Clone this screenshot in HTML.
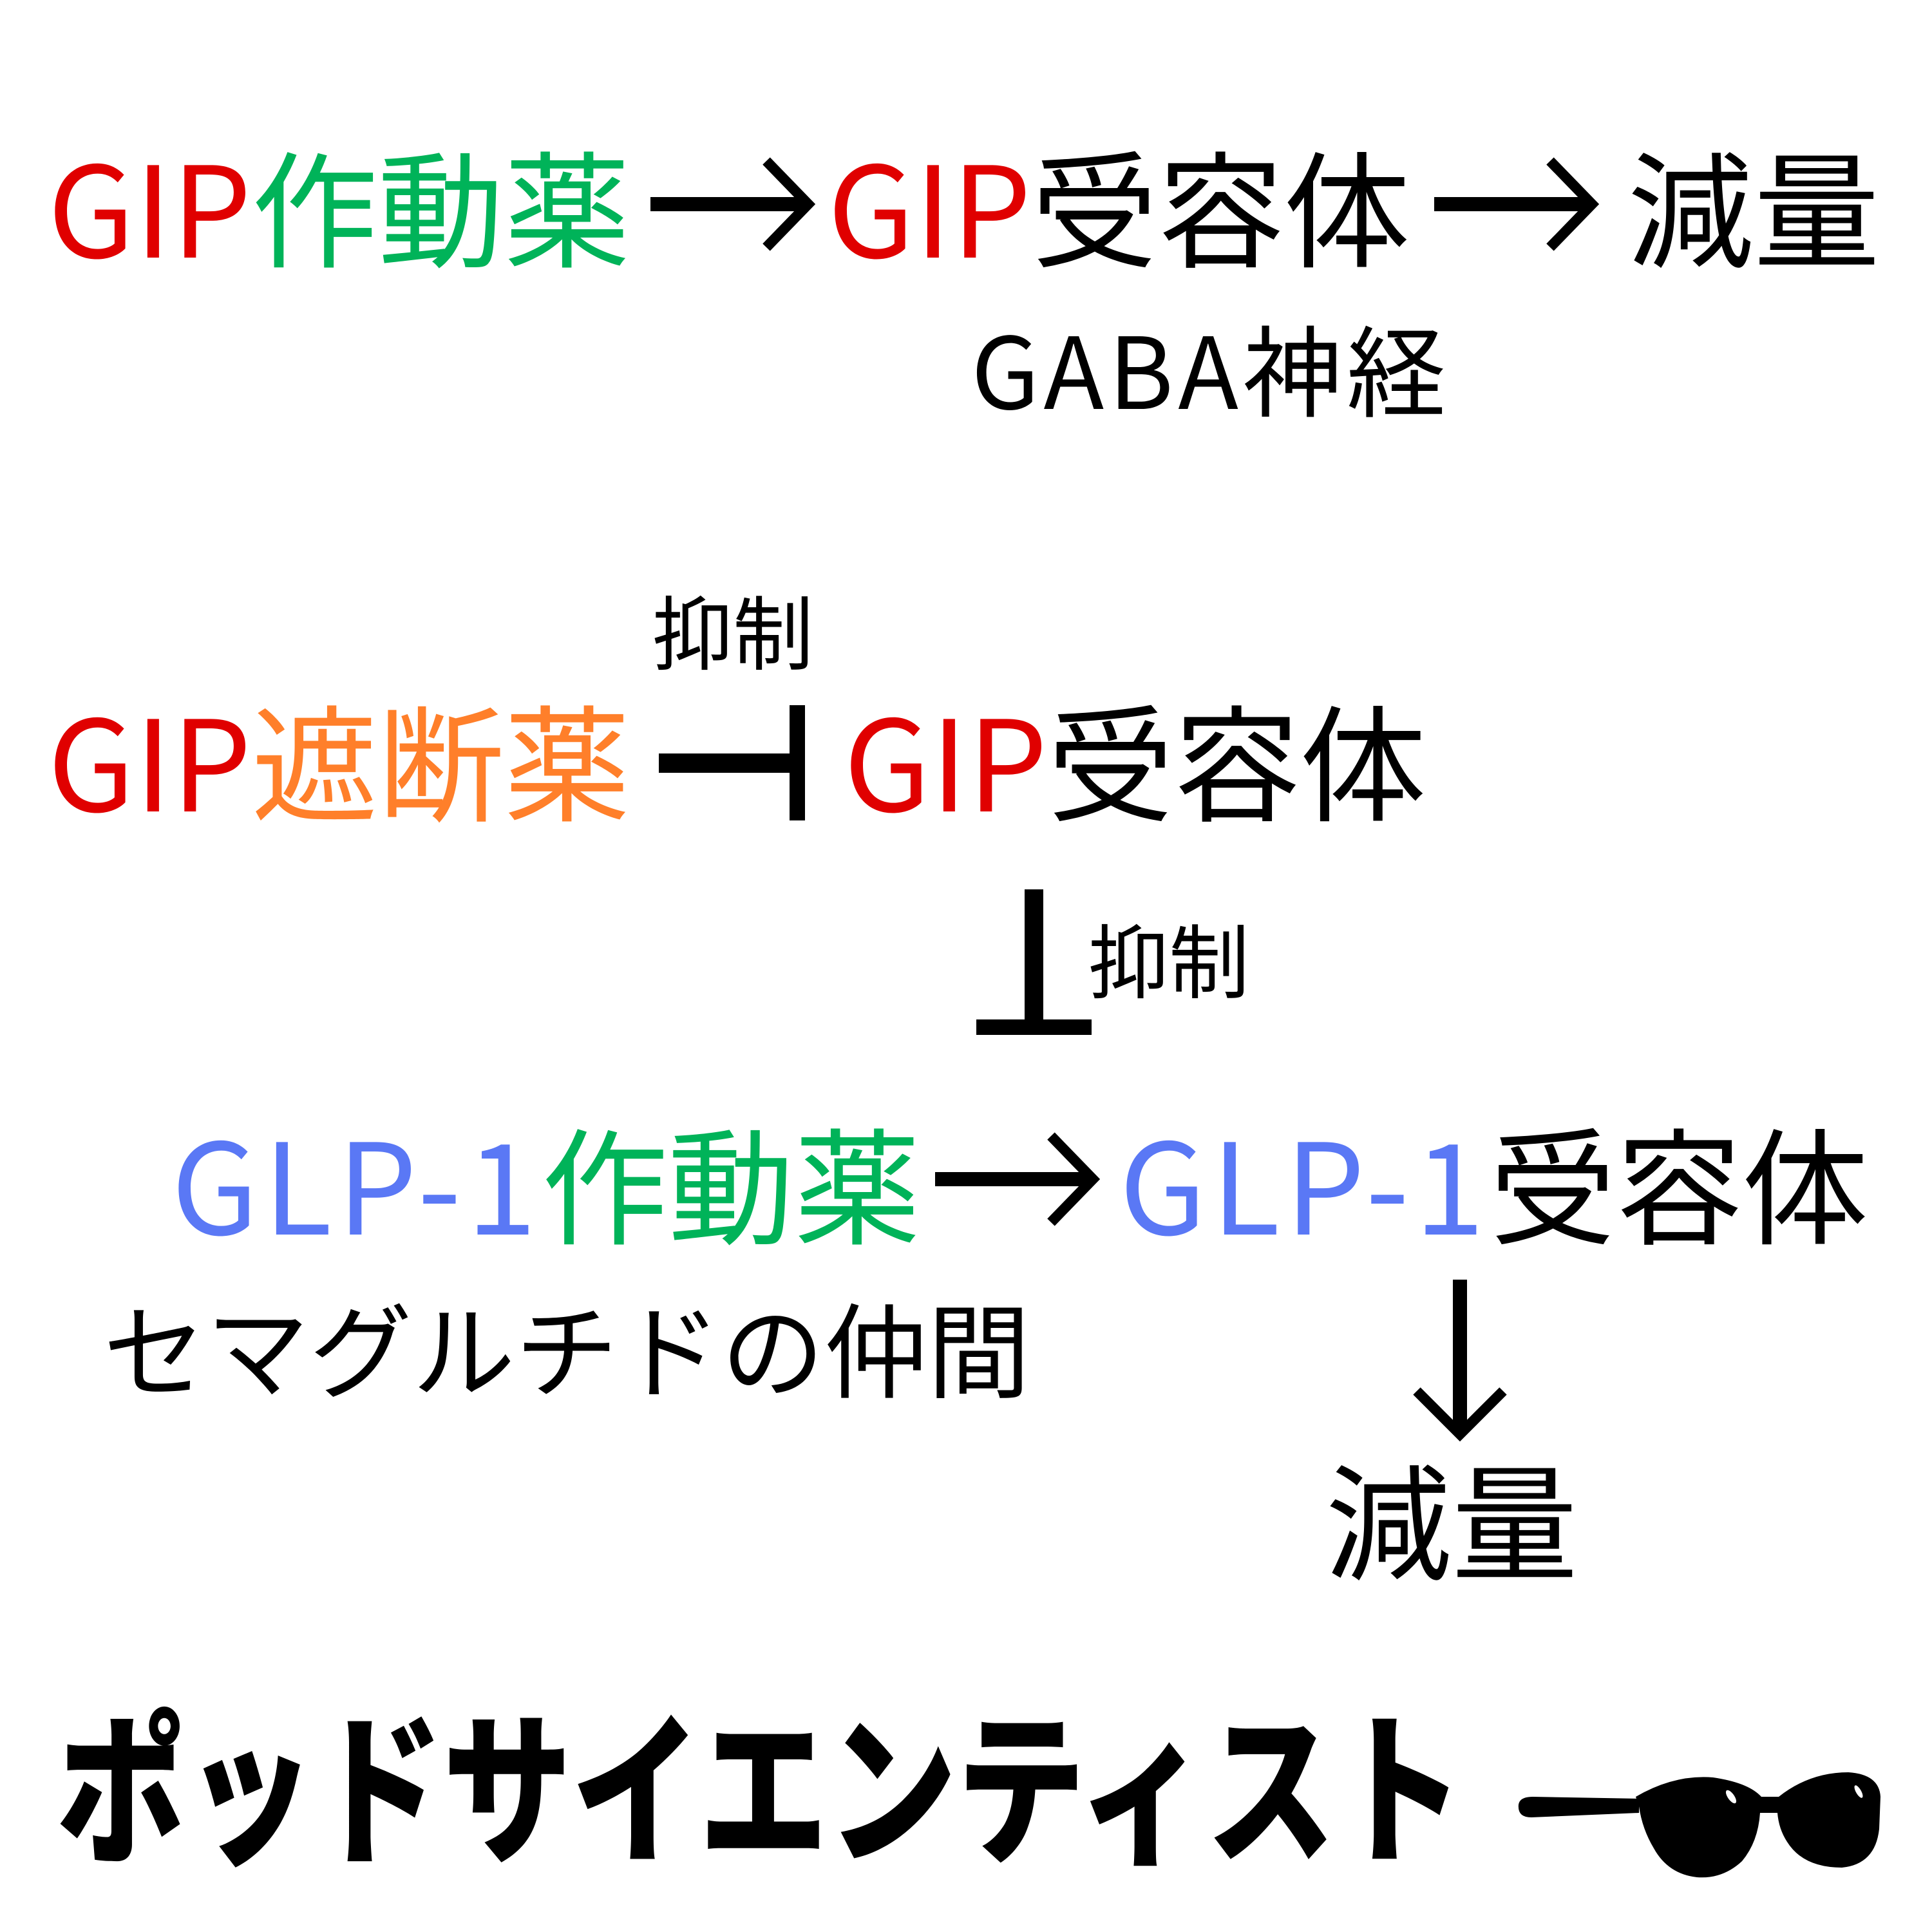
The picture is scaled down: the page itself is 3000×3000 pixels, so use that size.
<!DOCTYPE html>
<html><head><meta charset="utf-8"><style>
html,body{margin:0;padding:0;background:#fff;width:3000px;height:3000px;overflow:hidden}
svg{display:block}
text{font-family:"Noto Sans CJK JP","Liberation Sans",sans-serif}
</style></head><body>
<svg width="3000" height="3000" viewBox="0 0 3000 3000" xmlns="http://www.w3.org/2000/svg">
<!-- line 1 -->
<text x="74" y="400" font-size="196"><tspan fill="#e00000">GIP</tspan><tspan fill="#00b359">作動薬</tspan></text>
<text x="1285" y="400" font-size="196"><tspan fill="#e00000">GIP</tspan><tspan fill="#000">受容体</tspan></text>
<text x="2527" y="400" font-size="196" fill="#000">減量</text>
<text x="1508" y="635" font-size="154" fill="#000" letter-spacing="7">GABA神経</text>
<!-- line 2 -->
<text x="1013" y="1030" font-size="125" fill="#000">抑制</text>
<text x="74" y="1260" font-size="196"><tspan fill="#e00000">GIP</tspan><tspan fill="#ff7f2a">遮断薬</tspan></text>
<text x="1310" y="1260" font-size="196"><tspan fill="#e00000">GIP</tspan><tspan fill="#000">受容体</tspan></text>
<text x="1690" y="1540" font-size="125" fill="#000">抑制</text>
<!-- line 3 -->
<text x="266" y="1917" font-size="196"><tspan fill="#5a78f5" letter-spacing="8">GLP-1</tspan><tspan fill="#00b359">作動薬</tspan></text>
<text x="1738" y="1917" font-size="196"><tspan fill="#5a78f5" letter-spacing="8">GLP-1</tspan><tspan fill="#000">受容体</tspan></text>
<text x="160" y="2158" font-size="160" fill="#000">セマグルチドの仲間</text>
<text x="2058" y="2438" font-size="196" fill="#000">減量</text>
<!-- logo -->
<text x="88" y="2895" font-size="222" font-weight="900" fill="#000" transform="translate(0,-456) scale(1,1.15)" textLength="2185" lengthAdjust="spacingAndGlyphs">ポッドサイエンティスト</text>
<!-- arrows -->
<g stroke="#000" fill="none" stroke-width="22" stroke-linejoin="miter">
<line x1="1010" y1="317" x2="1250" y2="317"/>
<polyline points="1190,250 1255,317 1190,384" stroke-width="16"/>
<line x1="2227" y1="317" x2="2467" y2="317"/>
<polyline points="2407,250 2472,317 2407,384" stroke-width="16"/>
<line x1="1452" y1="1831" x2="1692" y2="1831"/>
<polyline points="1632,1764 1697,1831 1632,1898" stroke-width="16"/>
<line x1="2267" y1="1987" x2="2267" y2="2221"/>
<polyline points="2200,2160 2267,2227 2334,2160" stroke-width="16"/>
</g>
<!-- inhibitions -->
<rect x="1023" y="1170" width="215" height="30" fill="#000"/>
<rect x="1226" y="1095" width="24" height="179" fill="#000"/>
<rect x="1591" y="1381" width="29" height="210" fill="#000"/>
<rect x="1516" y="1583" width="179" height="24" fill="#000"/>
<!-- sunglasses -->
<g fill="#000">
<path d="M2358,2802 Q2360,2790 2380,2790 L2545,2793 L2545,2815 L2378,2822 Q2356,2822 2358,2802 Z"/>
<path d="M2540,2790 Q2600,2755 2660,2760 Q2715,2768 2735,2790 L2762,2790 Q2810,2752 2870,2752 Q2918,2755 2920,2790 L2918,2840 Q2912,2895 2860,2900 Q2800,2900 2775,2860 Q2762,2840 2760,2815 L2733,2815 Q2730,2860 2705,2890 Q2675,2918 2635,2915 Q2590,2910 2568,2870 Q2550,2840 2545,2805 Z"/>
</g>
<g fill="#fff">
<ellipse cx="2688" cy="2790" rx="5" ry="12" transform="rotate(-35 2688 2790)"/>
<ellipse cx="2886" cy="2782" rx="4" ry="11" transform="rotate(-30 2886 2782)"/>
</g>
</svg>
</body></html>
